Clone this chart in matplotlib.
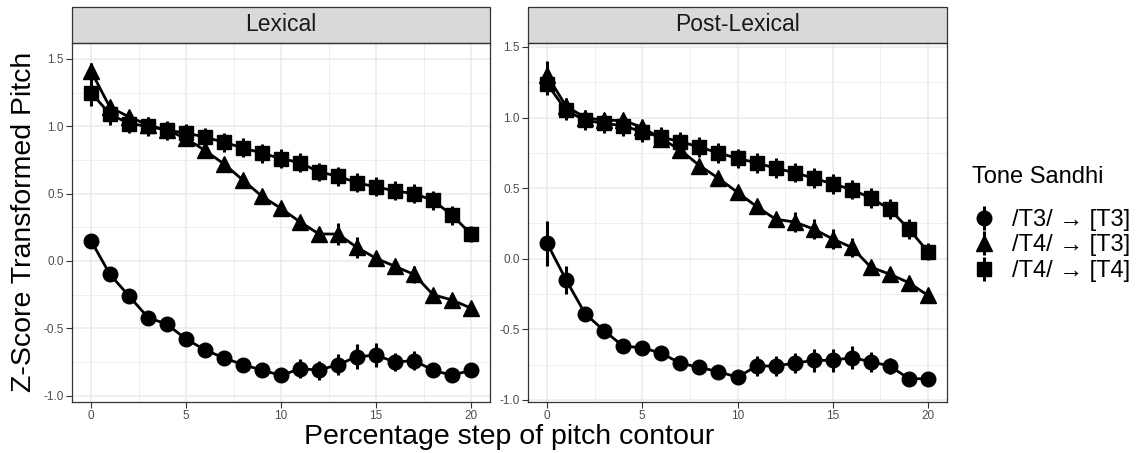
import matplotlib
matplotlib.use("Agg")
import matplotlib.pyplot as plt
from matplotlib.lines import Line2D
from matplotlib.patches import Rectangle
from matplotlib.legend_handler import HandlerTuple
from matplotlib.ticker import MultipleLocator

plt.rcParams['font.family'] = ['Liberation Sans', 'DejaVu Sans']

steps = list(range(21))
panels = ["Lexical", "Post-Lexical"]
series_labels = ["/T3/ \u2192 [T3]", "/T4/ \u2192 [T3]", "/T4/ \u2192 [T4]"]
markers = ["o", "^", "s"]

# Lexical
lex_t3t3 = [0.15, -0.10, -0.26, -0.42, -0.47, -0.58, -0.66, -0.72, -0.77, -0.81, -0.85,
            -0.80, -0.81, -0.77, -0.71, -0.70, -0.75, -0.74, -0.81, -0.85, -0.81]
lex_t4t3 = [1.41, 1.14, 1.07, 1.01, 0.97, 0.91, 0.82, 0.72, 0.60, 0.48, 0.39,
            0.29, 0.20, 0.20, 0.10, 0.02, -0.04, -0.10, -0.25, -0.29, -0.35]
lex_t4t4 = [1.25, 1.09, 1.02, 1.00, 0.97, 0.95, 0.92, 0.88, 0.84, 0.80, 0.76,
            0.73, 0.66, 0.63, 0.58, 0.55, 0.52, 0.50, 0.45, 0.34, 0.20]
lex_t3t3_err = [0.03, 0.03, 0.03, 0.03, 0.03, 0.03, 0.03, 0.03, 0.03, 0.04, 0.04,
                0.07, 0.07, 0.08, 0.09, 0.09, 0.07, 0.07, 0.04, 0.03, 0.03]
lex_t4t3_err = [0.06, 0.05, 0.04, 0.04, 0.04, 0.04, 0.04, 0.04, 0.04, 0.04, 0.04,
                0.04, 0.04, 0.08, 0.08, 0.05, 0.05, 0.06, 0.04, 0.04, 0.04]
lex_t4t4_err = [0.10, 0.08, 0.07, 0.07, 0.07, 0.07, 0.07, 0.07, 0.07, 0.07, 0.07,
                0.07, 0.07, 0.07, 0.07, 0.07, 0.07, 0.07, 0.07, 0.07, 0.06]

# Post-Lexical
post_t3t3 = [0.11, -0.15, -0.39, -0.51, -0.62, -0.63, -0.67, -0.74, -0.77, -0.80, -0.84,
             -0.76, -0.76, -0.74, -0.72, -0.72, -0.70, -0.73, -0.76, -0.85, -0.85]
post_t4t3 = [1.30, 1.08, 1.00, 0.98, 0.98, 0.93, 0.85, 0.77, 0.66, 0.57, 0.47,
             0.37, 0.28, 0.26, 0.21, 0.14, 0.08, -0.06, -0.11, -0.17, -0.26]
post_t4t4 = [1.24, 1.05, 0.98, 0.96, 0.94, 0.90, 0.86, 0.83, 0.79, 0.75, 0.71,
             0.68, 0.64, 0.61, 0.57, 0.53, 0.49, 0.43, 0.35, 0.21, 0.05]
post_t3t3_err = [0.16, 0.10, 0.04, 0.03, 0.03, 0.03, 0.03, 0.03, 0.03, 0.03, 0.04,
                 0.07, 0.07, 0.07, 0.08, 0.08, 0.08, 0.07, 0.06, 0.03, 0.03]
post_t4t3_err = [0.10, 0.06, 0.04, 0.04, 0.04, 0.04, 0.04, 0.04, 0.04, 0.04, 0.04,
                 0.04, 0.04, 0.07, 0.07, 0.07, 0.07, 0.04, 0.04, 0.04, 0.04]
post_t4t4_err = [0.08, 0.07, 0.07, 0.07, 0.07, 0.07, 0.07, 0.07, 0.07, 0.07, 0.07,
                 0.07, 0.07, 0.07, 0.07, 0.07, 0.07, 0.07, 0.07, 0.07, 0.06]

data = {
    "Lexical": [(lex_t3t3, lex_t3t3_err), (lex_t4t3, lex_t4t3_err), (lex_t4t4, lex_t4t4_err)],
    "Post-Lexical": [(post_t3t3, post_t3t3_err), (post_t4t3, post_t4t3_err), (post_t4t4, post_t4t4_err)],
}
ylims = {"Lexical": (-1.047, 1.618), "Post-Lexical": (-1.015, 1.528)}

W, H = 1144, 453
fig = plt.figure(figsize=(W / 100, H / 100), dpi=100)

boxes = {"Lexical": (72, 490), "Post-Lexical": (528, 947)}
top, bottom = 43, 402
strip_top = 7

msizes = {"o": 10.5, "^": 11.5, "s": 10}
grid_col = "#EBEBEB"
border_col = "#333333"
tick_col = "#4D4D4D"

axes = []
for p in panels:
    x0, x1 = boxes[p]
    ax = fig.add_axes([x0 / W, 1 - bottom / H, (x1 - x0) / W, (bottom - top) / H])
    axes.append(ax)
    ax.set_xlim(-1, 21)
    ax.set_ylim(*ylims[p])
    ax.xaxis.set_major_locator(MultipleLocator(5))
    ax.xaxis.set_minor_locator(MultipleLocator(2.5))
    ax.yaxis.set_major_locator(MultipleLocator(0.5))
    ax.yaxis.set_minor_locator(MultipleLocator(0.25))
    ax.grid(which="major", color=grid_col, linewidth=1.1)
    ax.grid(which="minor", color=grid_col, linewidth=0.55)
    ax.set_axisbelow(True)
    ax.tick_params(which="minor", length=0)
    ax.tick_params(which="major", length=4, width=0.8, color=border_col,
                   labelsize=8.5, labelcolor=tick_col, pad=2)
    ax.set_yticks([-1.0, -0.5, 0.0, 0.5, 1.0, 1.5])
    ax.set_yticklabels(["-1.0", "-0.5", "0.0", "0.5", "1.0", "1.5"])
    for s in ax.spines.values():
        s.set_color(border_col)
        s.set_linewidth(0.9)
    for (vals, errs), m in zip(data[p], markers):
        ax.errorbar(steps, vals, yerr=errs, fmt="none", ecolor="black",
                    elinewidth=2.2, capsize=0, zorder=3)
        ax.plot(steps, vals, color="black", linewidth=2.0, zorder=4)
        ax.plot(steps, vals, linestyle="none", marker=m, color="black",
                markersize=msizes[m], zorder=5)
    sh = (bottom - strip_top) / (bottom - top)
    rect = Rectangle((0, 1), 1, sh - 1, transform=ax.transAxes, facecolor="#D9D9D9",
                     edgecolor=border_col, linewidth=0.9, clip_on=False)
    ax.add_patch(rect)
    ax.text(0.5, 1 + (sh - 1) / 2, p, transform=ax.transAxes, ha="center", va="center",
            fontsize=16.5, color="#1A1A1A")

fig.text(509 / W, 1 - 437 / H, "Percentage step of pitch contour", ha="center", va="center",
         fontsize=20.5, color="black")
fig.text(24 / W, 1 - 222 / H, "Z-Score Transformed Pitch", ha="center", va="center",
         rotation=90, fontsize=20.5, color="black")

handles = []
for m in markers:
    h1 = Line2D([], [], linestyle="none", marker="|", color="black", markersize=17,
                markeredgewidth=2.2)
    h2 = Line2D([], [], linestyle="none", marker=m, color="black", markersize=msizes[m])
    handles.append((h1, h2))
leg = fig.legend(handles, series_labels, handler_map={tuple: HandlerTuple(ndivide=1)},
                 loc="upper left", bbox_to_anchor=(972 / W, 1 - 166 / H), frameon=False,
                 fontsize=17, title="Tone Sandhi", title_fontsize=17,
                 labelspacing=0.15, handlelength=1.0, handletextpad=0.7,
                 borderaxespad=0, borderpad=0)
leg._legend_box.align = "left"
leg._legend_box.sep = 15

fig.savefig("out.png", dpi=100)
